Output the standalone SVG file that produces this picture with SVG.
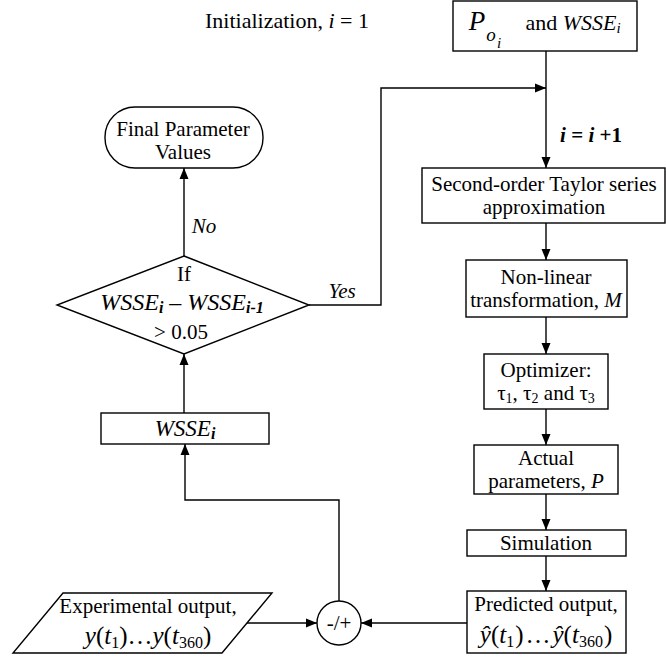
<svg xmlns="http://www.w3.org/2000/svg" width="666" height="657" viewBox="0 0 666 657">
<defs>
<marker id="ah" markerUnits="userSpaceOnUse" markerWidth="12" markerHeight="12" viewBox="0 0 12 12" refX="11" refY="6" orient="auto">
<path d="M0,1.5 L11,6 L0,10.5 Z" fill="#000"/>
</marker>
</defs>
<rect width="666" height="657" fill="#fff"/>
<g font-family="Liberation Serif" font-size="21" text-anchor="middle" fill="#000">
<text x="287" y="28" font-size="22">Initialization, <tspan font-style="italic">i</tspan> = 1</text>
<g id="connectors">
<g fill="none" stroke="#000" stroke-width="1.4">
<line x1="546" y1="51" x2="546" y2="168" marker-end="url(#ah)"/>
<polyline points="309,305 381,305 381,88 546,88" marker-end="url(#ah)"/>
<line x1="546" y1="223" x2="546" y2="260" marker-end="url(#ah)"/>
<line x1="546" y1="317" x2="546" y2="354" marker-end="url(#ah)"/>
<line x1="546" y1="409" x2="546" y2="445" marker-end="url(#ah)"/>
<line x1="546" y1="494" x2="546" y2="530" marker-end="url(#ah)"/>
<line x1="546" y1="556" x2="546" y2="591" marker-end="url(#ah)"/>
<line x1="467" y1="623" x2="361" y2="623" marker-end="url(#ah)"/>
<line x1="247" y1="623" x2="317" y2="623" marker-end="url(#ah)"/>
<polyline points="339,601 339,500 185,500 185,444" marker-end="url(#ah)"/>
<line x1="184" y1="413" x2="184" y2="354" marker-end="url(#ah)"/>
<line x1="184" y1="256" x2="184" y2="168" marker-end="url(#ah)"/>
</g>
<text x="591" y="142" font-weight="bold"><tspan font-style="italic">i</tspan> = <tspan font-style="italic">i</tspan> +1</text>
<text x="204" y="233" font-style="italic">No</text>
<text x="342" y="298" font-style="italic">Yes</text>
</g>
<g id="init-box">
<rect x="453" y="1" width="184" height="50" fill="#fff" stroke="#000" stroke-width="1.4"/>
<text x="477" y="30" font-style="italic" font-size="27">P</text>
<text x="491" y="41" font-style="italic" font-size="19">o</text>
<text x="499" y="48" font-style="italic" font-size="15">i</text>
<text x="573" y="30" font-size="22">and <tspan font-style="italic">WSSE<tspan font-size="15" dy="3">i</tspan></tspan></text>
</g>
<g id="taylor">
<rect x="422" y="168" width="243" height="55" fill="#fff" stroke="#000" stroke-width="1.4"/>
<text x="544" y="191">Second-order Taylor series</text>
<text x="544" y="214">approximation</text>
</g>
<g id="nonlinear">
<rect x="466" y="260" width="161" height="57" fill="#fff" stroke="#000" stroke-width="1.4"/>
<text x="546" y="284">Non-linear</text>
<text x="546" y="307">transformation, <tspan font-style="italic">M</tspan></text>
</g>
<g id="optimizer">
<rect x="484" y="354" width="124" height="55" fill="#fff" stroke="#000" stroke-width="1.4"/>
<text x="546" y="377">Optimizer:</text>
<text x="546" y="400">&#x3C4;<tspan font-size="14" dy="3">1</tspan><tspan dy="-3">, &#x3C4;</tspan><tspan font-size="14" dy="3">2</tspan><tspan dy="-3"> and &#x3C4;</tspan><tspan font-size="14" dy="3">3</tspan></text>
</g>
<g id="actual">
<rect x="474" y="445" width="144" height="49" fill="#fff" stroke="#000" stroke-width="1.4"/>
<text x="546" y="465">Actual</text>
<text x="546" y="488">parameters, <tspan font-style="italic">P</tspan></text>
</g>
<g id="simulation">
<rect x="467" y="530" width="159" height="26" fill="#fff" stroke="#000" stroke-width="1.4"/>
<text x="546" y="550">Simulation</text>
</g>
<g id="predicted">
<rect x="467" y="591" width="159" height="62" fill="#fff" stroke="#000" stroke-width="1.4"/>
<text x="546" y="611">Predicted output,</text>
<text x="546" y="643" font-size="25"><tspan font-style="italic">&#x177;</tspan>(<tspan font-style="italic">t</tspan><tspan font-size="16" dy="4">1</tspan><tspan dy="-4" dx="1">)</tspan><tspan dx="2">&#x2026;</tspan><tspan font-style="italic" dx="2">&#x177;</tspan>(<tspan font-style="italic">t</tspan><tspan font-size="16" dy="4">360</tspan><tspan dy="-4" dx="1">)</tspan></text>
</g>
<g id="sum">
<circle cx="339" cy="623" r="22" fill="#fff" stroke="#000" stroke-width="1.4"/>
<text x="339" y="630">-/+</text>
</g>
<g id="experimental">
<polygon points="63,593 272,593 222,653 13,653" fill="#fff" stroke="#000" stroke-width="1.4"/>
<text x="148" y="613">Experimental output,</text>
<text x="148" y="644" font-size="25"><tspan font-style="italic">y</tspan>(<tspan font-style="italic">t</tspan><tspan font-size="16" dy="4">1</tspan><tspan dy="-4">)&#x2026;</tspan><tspan font-style="italic">y</tspan>(<tspan font-style="italic">t</tspan><tspan font-size="16" dy="4">360</tspan><tspan dy="-4">)</tspan></text>
</g>
<g id="wsse">
<rect x="101" y="413" width="168" height="31" fill="#fff" stroke="#000" stroke-width="1.4"/>
<text x="185" y="436" font-style="italic" font-size="23">WSSE<tspan font-weight="bold" font-size="16" dy="3">i</tspan></text>
</g>
<g id="decision">
<polygon points="184,256 309,305 184,354 57,305" fill="#fff" stroke="#000" stroke-width="1.4"/>
<text x="184" y="281">If</text>
<text x="182" y="310" font-style="italic" font-size="24">WSSE<tspan font-weight="bold" font-size="16" dy="3">i</tspan><tspan dy="-3" font-style="normal"> &#x2013; </tspan>WSSE<tspan font-weight="bold" font-size="16" dy="3">i-1</tspan></text>
<text x="181" y="339">&gt; 0.05</text>
</g>
<g id="final">
<rect x="105" y="107" width="158" height="61" rx="30" ry="30" fill="#fff" stroke="#000" stroke-width="1.4"/>
<text x="183" y="136">Final Parameter</text>
<text x="183" y="159">Values</text>
</g>
</g>
</svg>
